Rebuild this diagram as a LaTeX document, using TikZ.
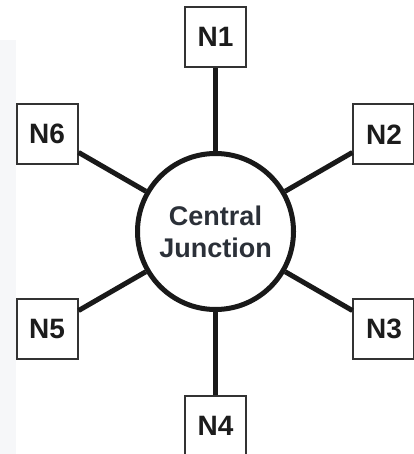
\documentclass[tikz,border=0pt]{standalone}
\usepackage{fontspec}
\setmainfont{Liberation Sans}
\usepackage{tikz}
\usetikzlibrary{positioning}
\definecolor{boxline}{HTML}{333333}
\definecolor{labeltext}{HTML}{1C1C1C}
\definecolor{hubtext}{HTML}{2B3038}
\definecolor{edgestrip}{HTML}{F6F7F9}
\tikzset{
	nodebox/.style={draw=boxline, line width=2pt, fill=white, minimum width=61pt, minimum height=60pt, inner sep=0pt, text=labeltext, font=\fontsize{28}{30}\selectfont\bfseries},
	hub/.style={draw=black!90, line width=5pt, fill=white, circle, minimum size=156pt, inner sep=0pt, align=center, text=hubtext, font=\fontsize{27}{32}\selectfont\bfseries},
	spoke/.style={line width=5pt, draw=black!90}
}

\begin{document}
\begin{tikzpicture}[x=1pt,y=1pt]
	\useasboundingbox (0,0) rectangle (413,-454);
	\fill[edgestrip] (0,-40) rectangle (16,-454);
	\node[hub] (c) at (215.5,-231.5) {Central\\Junction};
	\foreach \i/\a in {1/90,2/30,3/-30,4/-90,5/210,6/150} {
		\node[nodebox] (n\i) at ([shift={(\a:194.5)}]c.center) {N\i};
		\draw[spoke] (c) -- (n\i);}
\end{tikzpicture}
\end{document}
